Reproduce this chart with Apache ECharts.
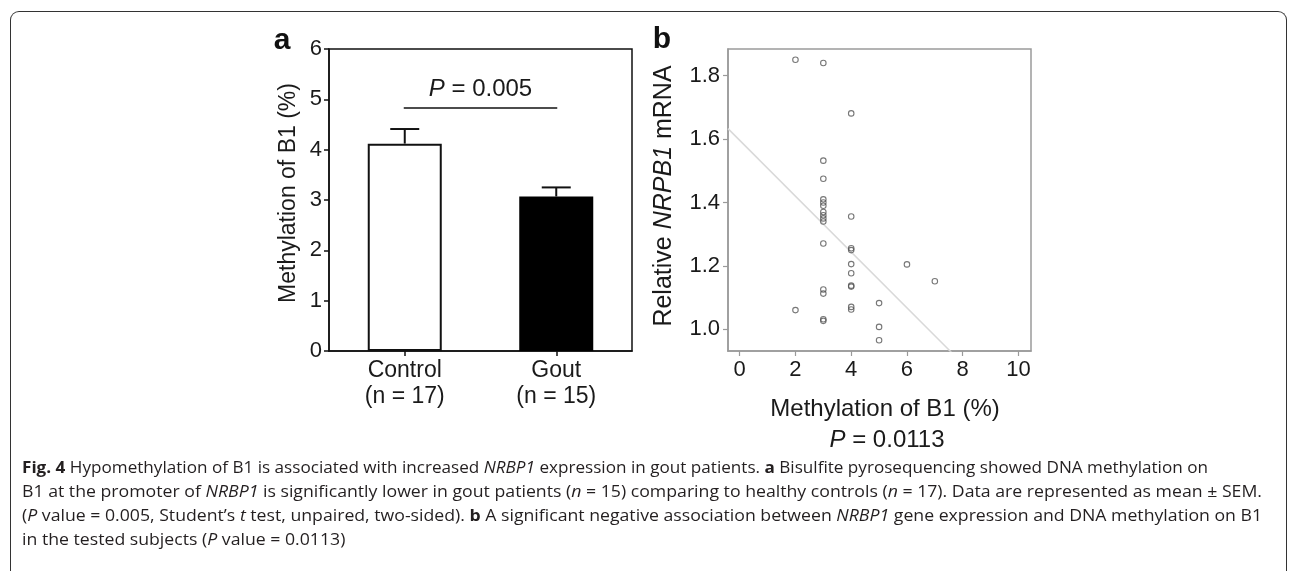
<!DOCTYPE html>
<html>
<head>
<meta charset="utf-8">
<script src="https://cdn.jsdelivr.net/npm/echarts@6/dist/echarts.min.js"></script>
<style>
  html, body { margin: 0; padding: 0; background: #fff; }
  #wrap { position: relative; width: 1292px; height: 571px; overflow: hidden; }
  #frame { position: absolute; left: 10px; top: 11px; width: 1277px; height: 600px;
           border: 1.6px solid #333; border-bottom: none; border-radius: 9px 9px 0 0; box-sizing: border-box; }
  #chart { position: absolute; left: 0; top: 0; width: 1292px; height: 571px; }
  #caption { position: absolute; left: 22px; top: 455px; font-family: "Open Sans", sans-serif;
             font-size: 16px; line-height: 24px; color: #231f20; white-space: nowrap; }
  #caption div { white-space: nowrap; transform-origin: 0 50%; width: max-content; }
</style>
</head>
<body>
<div id="wrap">
  <div id="frame"></div>
  <div id="chart"></div>
  <div id="caption">
    <div data-w="1186"><b>Fig. 4</b> Hypomethylation of B1 is associated with increased <i>NRBP1</i> expression in gout patients. <b>a</b> Bisulfite pyrosequencing showed DNA methylation on</div>
    <div data-w="1240">B1 at the promoter of <i>NRBP1</i> is significantly lower in gout patients (<i>n</i> = 15) comparing to healthy controls (<i>n</i> = 17). Data are represented as mean ± SEM.</div>
    <div data-w="1240">(<i>P</i> value = 0.005, Student’s <i>t</i> test, unpaired, two-sided). <b>b</b> A significant negative association between <i>NRBP1</i> gene expression and DNA methylation on B1</div>
    <div data-w="0">in the tested subjects (<i>P</i> value = 0.0113)</div>
  </div>
</div>
<script>
// ---- Panel a data ----
const groupNames = ['Control', 'Gout'];
const groupN = ['(n = 17)', '(n = 15)'];
const meanValues = [4.12, 3.07];
const semValues = [0.29, 0.18];
const bracketLevel = 4.83;
const pTextA = '0.005';
const yTicksA = [0, 1, 2, 3, 4, 5, 6];

// ---- Panel b data ----
const methX = [2, 2,
  3, 3, 3, 3, 3, 3, 3, 3, 3, 3, 3, 3, 3, 3, 3,
  4, 4, 4, 4, 4, 4, 4, 4, 4, 4,
  5, 5, 5,
  6,
  7];
const mrnaY = [1.85, 1.061,
  1.84, 1.532, 1.475, 1.41, 1.40, 1.39, 1.37, 1.36, 1.35, 1.34, 1.271, 1.126, 1.113, 1.032, 1.027,
  1.681, 1.356, 1.256, 1.25, 1.206, 1.177, 1.138, 1.135, 1.071, 1.063,
  1.083, 1.008, 0.966,
  1.205,
  1.152];
const fitIntercept = 1.596;
const fitSlope = -0.088;
const xTicksB = [0, 2, 4, 6, 8, 10];
const yTicksB = [1.0, 1.2, 1.4, 1.6, 1.8];
const pTextB = '0.0113';

const xMinB = -0.42, xMaxB = 10.45, yMinB = 0.932, yMaxB = 1.884;

// fit caption lines to the reference widths
(function () {
  const lines = document.querySelectorAll('#caption div');
  let lastScale = 1;
  lines.forEach(el => {
    const target = Number(el.getAttribute('data-w'));
    const w = el.getBoundingClientRect().width;
    const s = target > 0 ? target / w : lastScale;
    lastScale = s;
    el.style.transform = 'scaleX(' + s.toFixed(4) + ')';
  });
})();

const FONT = '"Liberation Sans", Arial, sans-serif';
const TXT = '#1a1a1a';
const chart = echarts.init(document.getElementById('chart'), null, { renderer: 'canvas' });

const scatterData = methX.map((x, i) => [x, mrnaY[i]]);
const fitData = [[xMinB, fitIntercept + fitSlope * xMinB], [xMaxB, fitIntercept + fitSlope * xMaxB]];

const option = {
  animation: false,
  backgroundColor: 'transparent',
  grid: [
    { left: 329, top: 49, width: 303, height: 302, show: true, borderColor: '#111', borderWidth: 1.5, backgroundColor: 'transparent' },
    { left: 728, top: 49, width: 303, height: 302, show: true, borderColor: '#9a9a9a', borderWidth: 1.5, backgroundColor: 'transparent' }
  ],
  xAxis: [
    {
      gridIndex: 0, type: 'category', data: groupNames.map((g, i) => g + '\n' + groupN[i]),
      axisLine: { lineStyle: { color: '#111', width: 1.5 } },
      axisTick: { show: true, alignWithLabel: true, length: 5, lineStyle: { color: '#111', width: 1.5 } },
      axisLabel: { color: TXT, fontSize: 23, fontFamily: FONT, lineHeight: 26, margin: 7 }
    },
    {
      gridIndex: 1, type: 'value', min: xMinB, max: xMaxB,
      splitLine: { show: false },
      axisLine: { onZero: false, lineStyle: { color: '#9a9a9a', width: 1.5 } },
      axisTick: { show: true, length: 5, customValues: xTicksB, lineStyle: { color: '#9a9a9a', width: 1.2 } },
      axisLabel: { customValues: xTicksB, color: TXT, fontSize: 22, fontFamily: FONT, margin: 8 }
    }
  ],
  yAxis: [
    {
      gridIndex: 0, type: 'value', min: 0, max: 6, interval: 1,
      splitLine: { show: false },
      axisLine: { show: true, lineStyle: { color: '#111', width: 1.5 } },
      axisTick: { show: true, length: 5, lineStyle: { color: '#111', width: 1.5 } },
      axisLabel: { color: TXT, fontSize: 22, fontFamily: FONT, margin: 7 }
    },
    {
      gridIndex: 1, type: 'value', min: yMinB, max: yMaxB,
      splitLine: { show: false },
      axisLine: { show: true, onZero: false, lineStyle: { color: '#9a9a9a', width: 1.5 } },
      axisTick: { show: true, length: 5, customValues: yTicksB, lineStyle: { color: '#9a9a9a', width: 1.2 } },
      axisLabel: { customValues: yTicksB, color: TXT, fontSize: 22, fontFamily: FONT, margin: 8,
                   formatter: v => Number(v).toFixed(1) }
    }
  ],
  series: [
    {
      type: 'bar', xAxisIndex: 0, yAxisIndex: 0, barWidth: 74,
      data: meanValues.map((v, i) => ({
        value: v,
        itemStyle: i === 0 ? { color: '#ffffff', borderColor: '#111', borderWidth: 2 }
                           : { color: '#000000', borderColor: '#000', borderWidth: 2 }
      })),
      z: 2
    },
    {
      type: 'custom', xAxisIndex: 0, yAxisIndex: 0, z: 3,
      data: meanValues.map((v, i) => [i, v, semValues[i]]),
      renderItem: function (params, api) {
        const p0 = api.coord([api.value(0), api.value(1)]);
        const p1 = api.coord([api.value(0), api.value(1) + api.value(2)]);
        const half = 14.5;
        return {
          type: 'group',
          children: [
            { type: 'line', shape: { x1: p0[0], y1: p0[1], x2: p1[0], y2: p1[1] }, style: { stroke: '#111', lineWidth: 2 } },
            { type: 'line', shape: { x1: p1[0] - half, y1: p1[1], x2: p1[0] + half, y2: p1[1] }, style: { stroke: '#111', lineWidth: 2 } }
          ]
        };
      }
    },
    {
      type: 'custom', xAxisIndex: 0, yAxisIndex: 0, z: 3,
      data: [[0, 1, bracketLevel]],
      renderItem: function (params, api) {
        const a = api.coord([api.value(0), api.value(2)]);
        const b = api.coord([api.value(1), api.value(2)]);
        return {
          type: 'group',
          children: [
            { type: 'line', shape: { x1: a[0] - 1, y1: a[1], x2: b[0] + 1, y2: b[1] }, style: { stroke: '#111', lineWidth: 1.5 } },
            { type: 'text', x: (a[0] + b[0]) / 2, y: a[1] - 7,
              style: { text: '{i|P} = ' + pTextA, align: 'center', verticalAlign: 'bottom',
                       fill: TXT, font: '24px ' + FONT,
                       rich: { i: { fontStyle: 'italic', fontSize: 24, fontFamily: FONT, fill: TXT } } } }
          ]
        };
      }
    },
    {
      type: 'line', xAxisIndex: 1, yAxisIndex: 1, data: fitData, showSymbol: false, symbol: 'none',
      lineStyle: { color: '#d9d9d9', width: 1.5 }, clip: true, z: 1, silent: true
    },
    {
      type: 'scatter', xAxisIndex: 1, yAxisIndex: 1, data: scatterData,
      symbol: 'circle', symbolSize: 5.5,
      itemStyle: { color: 'rgba(0,0,0,0)', borderColor: '#555', borderWidth: 1.1 },
      z: 3
    }
  ],
  graphic: [
    { type: 'text', x: 282, y: 41, style: { text: 'a', font: 'bold 30px ' + FONT, fill: '#111', align: 'center', verticalAlign: 'middle' } },
    { type: 'text', x: 662, y: 40, style: { text: 'b', font: 'bold 30px ' + FONT, fill: '#111', align: 'center', verticalAlign: 'middle' } },
    { type: 'text', x: 289, y: 193, rotation: Math.PI / 2,
      style: { text: 'Methylation of B1 (%)', font: '23px ' + FONT, fill: TXT, align: 'center', verticalAlign: 'middle' } },
    { type: 'text', x: 664, y: 196, rotation: Math.PI / 2,
      style: { text: 'Relative {i|NRPB1} mRNA', font: '25px ' + FONT, fill: TXT, align: 'center', verticalAlign: 'middle',
               rich: { i: { fontStyle: 'italic', fontSize: 25, fontFamily: FONT, fill: TXT } } } },
    { type: 'text', x: 885, y: 409,
      style: { text: 'Methylation of B1 (%)', font: '24px ' + FONT, fill: TXT, align: 'center', verticalAlign: 'middle' } },
    { type: 'text', x: 887, y: 440,
      style: { text: '{i|P} = ' + pTextB, font: '24px ' + FONT, fill: TXT, align: 'center', verticalAlign: 'middle',
               rich: { i: { fontStyle: 'italic', fontSize: 24, fontFamily: FONT, fill: TXT } } } }
  ]
};
chart.setOption(option);
</script>
</body>
</html>
